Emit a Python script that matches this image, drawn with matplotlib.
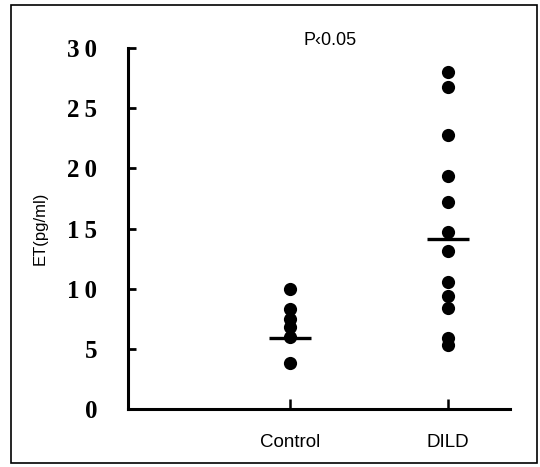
import numpy as np
from matplotlib import pyplot as plt
from matplotlib.patches import Rectangle

# ----- data -----
groups = ["Control", "DILD"]
control_et = [10.0, 8.3, 7.5, 6.8, 6.0, 3.8]
dild_et = [28.0, 26.8, 22.8, 19.4, 17.2, 14.7, 13.1, 10.6, 9.4, 8.4, 5.9, 5.3]
group_means = [5.9, 14.1]
yticks = [0, 5, 10, 15, 20, 25, 30]
p_text = "P\u20390.05"

# ----- figure -----
fig = plt.figure(figsize=(5.4, 4.67), dpi=100)
ax = fig.add_axes([0.237, 0.124, 0.707, 0.773])

for i, vals in enumerate([control_et, dild_et]):
    ax.plot(np.full(len(vals), i + 1), vals, 'o', color='black',
            markersize=9.5, markeredgewidth=0)

ax.hlines(group_means, [1 - 0.133, 2 - 0.133], [1 + 0.133, 2 + 0.133],
          color='black', linewidth=2.4)

ax.set_xlim(-0.025, 2.392)
ax.set_ylim(0, 30)
ax.set_xticks([1, 2])
ax.set_xticklabels(groups, fontsize=13.5, family='Liberation Sans')
ax.set_yticks(yticks)
ax.set_yticklabels(["\u2009".join(str(t)) for t in yticks], fontsize=18,
                   family=['Liberation Serif', 'DejaVu Serif'],
                   fontweight='bold')
ax.tick_params(axis='y', direction='in', length=6, width=2, pad=22)
ax.tick_params(axis='x', direction='in', length=7, width=1.8, pad=18)
ax.set_ylabel("ET(pg/ml)", fontsize=12, family='Liberation Sans', labelpad=14)

for s in ['top', 'right']:
    ax.spines[s].set_visible(False)
for s in ['left', 'bottom']:
    ax.spines[s].set_linewidth(2.2)

fig.text(0.611, 0.914, p_text, fontsize=13, family='Liberation Sans',
         ha='center', va='center')

# outer frame
fig.add_artist(Rectangle((11 / 540, 1 - 463 / 467), 526 / 540, 458 / 467,
                         transform=fig.transFigure, fill=False,
                         edgecolor='black', linewidth=1.2))

fig.savefig("out.png", dpi=100)
